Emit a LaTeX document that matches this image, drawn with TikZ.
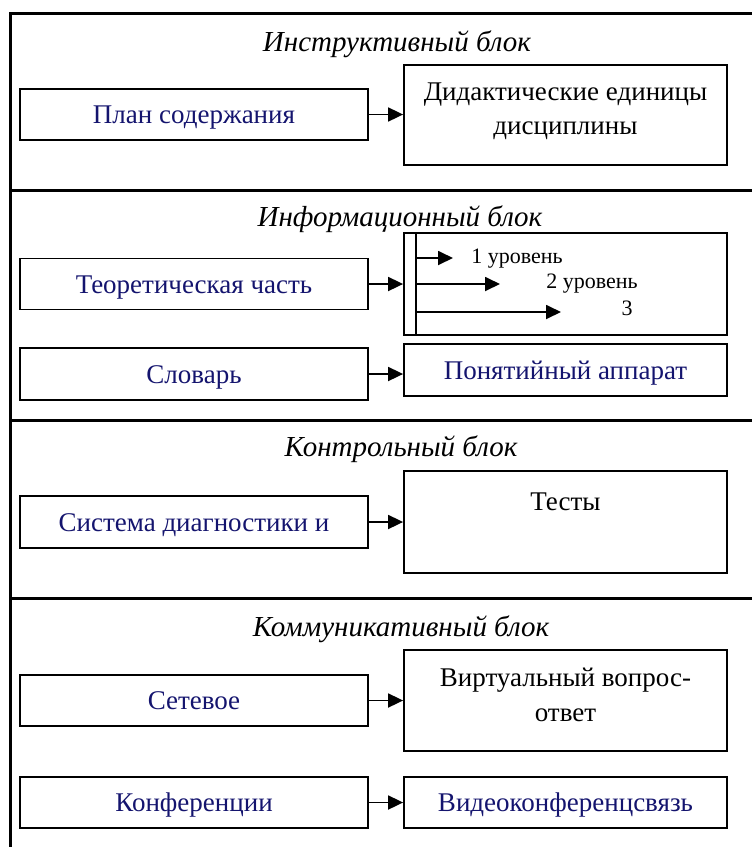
\documentclass[tikz,border=0pt]{standalone}
\usepackage{fontspec}
\setmainfont{Liberation Serif}
\usetikzlibrary{arrows.meta,calc}
\definecolor{navy}{RGB}{20,20,110}
\begin{document}
\begin{tikzpicture}[x=1pt,y=-1pt,
  box/.style={draw,line width=1.8pt,inner sep=0pt,text height=23pt,text depth=5pt,font=\fontsize{27}{32}\selectfont},
  lbox/.style={box,minimum width=348pt,minimum height=51pt,text=navy},
  rbox/.style={box,minimum width=323pt},
  txt/.style={inner sep=0pt,font=\fontsize{27}{32}\selectfont},
  ttl/.style={inner sep=0pt,font=\fontsize{29}{34}\selectfont\itshape},
  sm/.style={inner sep=0pt,font=\fontsize{22}{26}\selectfont},
  arr/.style={line width=1.8pt,-{Triangle[length=15pt,width=14pt]}},
  framel/.style={line width=3pt}]
\useasboundingbox (0,0) rectangle (752,847);
% frame
\coordinate (tl) at (10,13);
\coordinate (tr) at (752,13);
\coordinate (bl) at (10,847);
\draw[framel] (tr) -- (tl) -- (bl);
\draw[framel] (10,190) -- (752,190);
\draw[framel] (10,420) -- (752,420);
\draw[framel] (10,598) -- (752,598);
% titles
\node[ttl] (t1) at (397,44) {Инструктивный блок};
\node[ttl] (t2) at (400,219) {Информационный блок};
\node[ttl] (t3) at (401,449) {Контрольный блок};
\node[ttl] (t4) at (401,629) {Коммуникативный блок};
% section 1
\node[lbox] (plan) at (194,114.5) {План содержания};
\node[rbox,minimum height=100pt] (did) at (565.5,115) {};
\node[txt] (did1) at (565.5,95) {Дидактические единицы};
\node[txt] (did2) at (565.5,131) {дисциплины};
\draw[arr] (plan.east) -- (plan.east -| did.west);
% section 2
\node[lbox] (theo) at (194,284) {Теоретическая часть};
\node[rbox,minimum height=102pt] (lvl) at (565.5,284) {};
\coordinate (bt) at (416,233);
\coordinate (bb) at (416,335);
\draw[line width=1.8pt] (bt) -- (bb);
\draw[arr] (theo.east) -- (theo.east -| lvl.west);
\coordinate (a1) at (416,258);
\coordinate (e1) at (453,258);
\coordinate (a2) at (416,284);
\coordinate (e2) at (500,284);
\coordinate (a3) at (416,312);
\coordinate (e3) at (561,312);
\draw[arr] (a1) -- (e1);
\draw[arr] (a2) -- (e2);
\draw[arr] (a3) -- (e3);
\node[sm] (l1) at (517,259) {1 уровень};
\node[sm] (l2) at (592,284) {2 уровень};
\node[sm] (l3) at (627,308) {3};
\node[lbox,minimum height=52pt] (dict) at (194,374) {Словарь};
\node[rbox,minimum height=52pt,text=navy] (pon) at (565.5,370) {Понятийный аппарат};
\draw[arr] (dict.east) -- (dict.east -| pon.west);
% section 3
\node[lbox,minimum height=52pt] (diag) at (194,522) {Система диагностики и};
\node[rbox,minimum height=102pt] (tests) at (565.5,522) {};
\node[txt] (testst) at (565.5,502) {Тесты};
\draw[arr] (diag.east) -- (diag.east -| tests.west);
% section 4
\node[lbox] (net) at (194,700.5) {Сетевое};
\node[rbox,minimum height=101pt] (virt) at (565.5,700.5) {};
\node[txt] (virt1) at (565.5,680) {Виртуальный вопрос-};
\node[txt] (virt2) at (565.5,715) {ответ};
\draw[arr] (net.east) -- (net.east -| virt.west);
\node[lbox] (conf) at (194,802.5) {Конференции};
\node[rbox,minimum height=51pt,text=navy] (video) at (565.5,802.5) {Видеоконференцсвязь};
\draw[arr] (conf.east) -- (video.west);
\end{tikzpicture}
\end{document}
